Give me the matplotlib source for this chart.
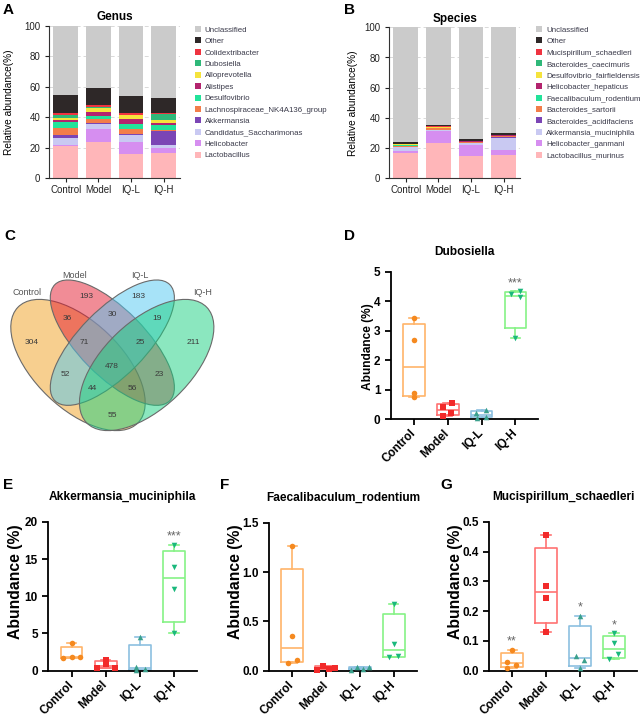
import numpy as np
import matplotlib
matplotlib.use('Agg')
import matplotlib.pyplot as plt
from matplotlib.patches import Ellipse, Patch

plt.rcParams['font.family'] = ['Liberation Sans', 'DejaVu Sans']

# === DATOS ===
groups = ['Control', 'Model', 'IQ-L', 'IQ-H']

# genus stack, bottom -> top
genus_names = ['Lactobacillus', 'Helicobacter', 'Candidatus_Saccharimonas', 'Akkermansia',
               'Lachnospiraceae_NK4A136_group', 'Desulfovibrio', 'Alistipes', 'Alloprevotella',
               'Dubosiella', 'Colidextribacter', 'Other', 'Unclassified']
genus_control = [21.0, 1.1, 4.6, 1.5, 4.8, 3.7, 1.8, 1.3, 2.0, 1.1, 11.6, 45.5]
genus_model = [23.9, 8.3, 3.3, 0.9, 2.6, 1.8, 2.8, 2.6, 0.4, 1.3, 11.1, 41.0]
genus_iql = [16.2, 7.7, 4.4, 1.1, 2.8, 3.3, 3.7, 2.2, 0.2, 1.4, 11.0, 46.0]
genus_iqh = [16.7, 3.3, 2.1, 9.0, 0.9, 2.9, 1.5, 1.8, 3.7, 1.3, 9.2, 47.6]

species_names = ['Lactobacillus_murinus', 'Helicobacter_ganmani', 'Akkermansia_muciniphila',
                 'Bacteroides_acidifaciens', 'Bacteroides_sartorii', 'Faecalibaculum_rodentium',
                 'Helicobacter_hepaticus', 'Desulfovibrio_fairfieldensis', 'Bacteroides_caecimuris',
                 'Mucispirillum_schaedleri', 'Other', 'Unclassified']
species_control = [17.0, 1.2, 2.2, 0.4, 0.5, 0.5, 0.3, 0.3, 0.4, 0.1, 0.9, 76.2]
species_model = [23.2, 8.0, 0.6, 0.5, 0.7, 0.1, 0.5, 0.3, 0.3, 0.3, 0.6, 64.9]
species_iql = [14.8, 7.3, 1.0, 0.2, 0.6, 0.1, 0.4, 0.2, 0.3, 0.1, 0.8, 74.2]
species_iqh = [15.2, 3.3, 8.4, 0.3, 0.7, 0.3, 0.2, 0.2, 0.3, 0.1, 0.8, 70.2]

# venn counts, key = (Control, Model, IQ-L, IQ-H)
venn_counts = {
    (1, 0, 0, 0): 304, (0, 1, 0, 0): 193, (0, 0, 1, 0): 183, (0, 0, 0, 1): 211,
    (1, 1, 0, 0): 36, (0, 1, 1, 0): 30, (0, 0, 1, 1): 19, (1, 0, 1, 0): 52,
    (0, 1, 0, 1): 23, (1, 0, 0, 1): 55, (1, 1, 1, 0): 71, (0, 1, 1, 1): 25,
    (1, 0, 1, 1): 44, (1, 1, 0, 1): 56, (1, 1, 1, 1): 478,
}

# per-sample abundance (%)
dubosiella = {'Control': [0.74, 0.88, 2.68, 3.42], 'Model': [0.10, 0.20, 0.42, 0.55],
              'IQ-L': [0.05, 0.07, 0.20, 0.29], 'IQ-H': [2.76, 4.14, 4.26, 4.34]}
akkermansia = {'Control': [1.62, 1.84, 1.86, 3.65], 'Model': [0.30, 0.35, 0.90, 1.40],
               'IQ-L': [0.05, 0.15, 0.49, 4.46], 'IQ-H': [5.0, 11.0, 13.9, 16.9]}
faecalibaculum = {'Control': [0.08, 0.11, 0.355, 1.26], 'Model': [0.012, 0.016, 0.027, 0.05],
                  'IQ-L': [0.012, 0.015, 0.036, 0.04], 'IQ-H': [0.14, 0.145, 0.27, 0.675]}
mucispirillum = {'Control': [0.008, 0.02, 0.03, 0.07], 'Model': [0.13, 0.245, 0.285, 0.455],
                 'IQ-L': [0.01, 0.036, 0.05, 0.184], 'IQ-H': [0.04, 0.055, 0.092, 0.126]}

sig_dub = {'IQ-H': '***'}
sig_akk = {'IQ-H': '***'}
sig_fae = {}
sig_muc = {'Control': '**', 'IQ-L': '*', 'IQ-H': '*'}

# === ESTILO ===
stack_cols = ['#ffb6b9', '#d68ef0', '#c9c9f2', '#7b45b5', '#f27d4a', '#22e39a',
              '#b3246e', '#f5e33d', '#2fb879', '#ef3340', '#2e2828', '#cbcbcb']
box_cols = ['#ffb469', '#ff7272', '#8cc0e0', '#86f286']
pt_cols = ['#f5891f', '#f22a2a', '#3aa08c', '#1ab87c']
markers = ['o', 's', '^', 'v']

# scatter spread (category units), same order as the sorted values
jit_dub = {'Control': [0, 0, 0, 0], 'Model': [-0.13, 0.11, -0.14, 0.12],
           'IQ-L': [-0.13, 0.12, -0.15, 0.12], 'IQ-H': [0, 0.13, -0.13, 0.13]}
jit_akk = {'Control': [-0.26, 0, 0.26, 0], 'Model': [-0.26, 0.26, 0, 0],
           'IQ-L': [-0.12, 0.14, -0.12, 0], 'IQ-H': [0, 0, 0, 0]}
jit_fae = {'Control': [-0.13, 0.13, 0, 0], 'Model': [-0.28, 0.08, 0.27, -0.1],
           'IQ-L': [-0.26, 0.1, -0.08, 0.26], 'IQ-H': [-0.13, 0.13, 0, 0]}
jit_muc = {'Control': [-0.14, 0.13, -0.14, 0], 'Model': [0, 0, 0, 0],
           'IQ-L': [0, 0.13, -0.13, 0], 'IQ-H': [-0.15, 0.12, 0, 0]}

W, H = 642, 717
fig = plt.figure(figsize=(W / 100, H / 100), dpi=100)


def px_axes(x0, y0, x1, y1):
    return fig.add_axes([x0 / W, 1 - y1 / H, (x1 - x0) / W, (y1 - y0) / H])


def letter(x, y, s):
    fig.text(x / W, 1 - y / H, s, fontsize=11, fontweight='bold', va='top', ha='left')


def stacked(rect, title, names, series, leg_x, ylab_x):
    ax = px_axes(*rect)
    x = np.arange(len(groups))
    table = np.array(series)
    bottom = np.zeros(len(groups))
    for j, name in enumerate(names):
        ax.bar(x, table[:, j], 0.75, bottom=bottom, color=stack_cols[j], lw=0, label=name, zorder=2)
        bottom += table[:, j]
    ax.set_xlim(-0.5, 3.5)
    ax.set_ylim(0, 100)
    ax.set_yticks(np.arange(0, 101, 20))
    ax.set_xticks(x)
    ax.set_xticklabels(groups, fontsize=7)
    ax.tick_params(axis='y', labelsize=7, length=3, width=0.8, colors='#222')
    ax.tick_params(axis='x', length=3, width=0.8, colors='#222', pad=1.5)
    for s in ['top', 'right']:
        ax.spines[s].set_visible(False)
    for s in ['left', 'bottom']:
        ax.spines[s].set_linewidth(0.8)
        ax.spines[s].set_color('#333')
    ax.yaxis.grid(True, ls=(0, (4, 3)), color='#d9d9d9', lw=0.7)
    ax.set_axisbelow(True)
    ax.set_ylabel('Relative abundance(%)', fontsize=7.3)
    ax.yaxis.set_label_coords(ylab_x / (rect[2] - rect[0]), 0.5)
    ax.set_title(title, fontsize=8.5, fontweight='bold', pad=4)
    handles = [Patch(facecolor=stack_cols[j], label=names[j]) for j in range(len(names))][::-1]
    fig.legend(handles=handles, loc='upper left', bbox_to_anchor=(leg_x / W, 1 - 26 / H),
               frameon=False, fontsize=5.7, handlelength=0.8, handleheight=0.8,
               handletextpad=0.5, labelspacing=0.46, borderpad=0, borderaxespad=0,
               labelcolor='#3a3a4a')
    return ax


stacked((49.3, 26, 180, 178.3), 'Genus', genus_names,
        [genus_control, genus_model, genus_iql, genus_iqh], 194.5, -35)
stacked((389.3, 27.3, 520, 178.3), 'Species', species_names,
        [species_control, species_model, species_iql, species_iqh], 536, -31.5)

# === C: venn ===
axc = px_axes(0, 210, 321, 450)
axc.set_xlim(0, 963)
axc.set_ylim(720, 0)
axc.axis('off')
ellipses = [(234, 465, 500, 260, 43.8), (337, 398, 490, 200, 45.4),
            (337, 398, 490, 200, 134.6), (440, 465, 500, 260, 136.2)]
venn_cols = ['#f0a020', '#e41a2e', '#50c8f2', '#18d080']
for (cx, cy, w, h, ang), c in zip(ellipses, venn_cols):
    axc.add_patch(Ellipse((cx, cy), w, h, angle=ang, facecolor=c, alpha=0.5, lw=0))
    axc.add_patch(Ellipse((cx, cy), w, h, angle=ang, facecolor='none', edgecolor='#6a6a6a', lw=0.8))

gx, gy = np.meshgrid(np.arange(0, 963, 2.0), np.arange(0, 720, 2.0))
inside, dist = [], []
for cx, cy, w, h, ang in ellipses:
    t = np.deg2rad(ang)
    a, b = w / 2, h / 2
    dx, dy = gx - cx, gy - cy
    u = dx * np.cos(t) + dy * np.sin(t)
    v = -dx * np.sin(t) + dy * np.cos(t)
    q = (u / a) ** 2 + (v / b) ** 2
    g = 2 * np.hypot(u / a ** 2, v / b ** 2) + 1e-9
    inside.append(q < 1)
    dist.append(np.abs(q - 1) / g)
inside = np.array(inside)
margin = np.min(np.array(dist), axis=0)
for key, n in venn_counts.items():
    mask = np.all(inside == np.array(key, bool)[:, None, None], axis=0)
    m = np.where(mask, margin, -1)
    k = np.unravel_index(np.argmax(m), m.shape)
    axc.text(gx[k], gy[k], str(n), fontsize=6, color='#3a3a3a', ha='center', va='center')

venn_label_pos = [(80, 248), (225, 195), (420, 195), (608, 248)]
for (lx, ly), g in zip(venn_label_pos, groups):
    axc.text(lx, ly, g, fontsize=6.5, color='#555555', ha='center', va='center')


# === D-G: boxplots ===
def box_panel(rect, title, data, jit, ymax, step, fmt, sig, ylab_size, ylab_pos, title_pad):
    ax = px_axes(*rect)
    stats = []
    for g in groups:
        vals = np.array(data[g])
        q1, med, q3 = np.percentile(vals, [25, 50, 75], method='weibull')
        stats.append(dict(med=med, q1=q1, q3=q3, whislo=vals.min(), whishi=vals.max(), fliers=[]))
    art = ax.bxp(stats, positions=range(4), widths=0.64, capwidths=0.27, showfliers=False)
    for i, g in enumerate(groups):
        c = box_cols[i]
        art['boxes'][i].set(color=c, lw=1.2)
        art['medians'][i].set(color=c, lw=1.2)
        for k in (2 * i, 2 * i + 1):
            art['whiskers'][k].set(color=c, lw=1.2)
            art['caps'][k].set(color=c, lw=1.2)
        ax.scatter(i + np.array(jit[g]), data[g], marker=markers[i], s=16, color=pt_cols[i],
                   lw=0, zorder=3, clip_on=False)
        if g in sig:
            ax.text(i, max(data[g]) + 0.015 * ymax, sig[g], ha='center', va='bottom',
                    fontsize=9, color='#666666')
    ax.set_xlim(-0.68, 3.68)
    ax.set_ylim(0, ymax)
    ax.set_yticks(np.arange(0, ymax + step / 2, step))
    ax.yaxis.set_major_formatter(matplotlib.ticker.FormatStrFormatter(fmt))
    ax.set_xticks(range(4))
    ax.set_xticklabels(groups, rotation=45, ha='right', va='center', rotation_mode='anchor',
                       fontsize=8.5, fontweight='bold')
    for lab in ax.get_yticklabels():
        lab.set_fontweight('bold')
    ax.tick_params(labelsize=8.5, length=4, width=1.3)
    ax.tick_params(axis='x', pad=5)
    for s in ['top', 'right']:
        ax.spines[s].set_visible(False)
    for s in ['left', 'bottom']:
        ax.spines[s].set_linewidth(1.3)
    ax.set_ylabel('Abundance (%)', fontsize=ylab_size, fontweight='bold')
    ax.yaxis.set_label_coords(ylab_pos[0] / (rect[2] - rect[0]), ylab_pos[1])
    ax.set_title(title, fontsize=8.6, fontweight='bold', pad=title_pad)
    return ax


box_panel((391, 272, 538.3, 419), 'Dubosiella', dubosiella, jit_dub, 5, 1, '%d', sig_dub,
          8.6, (-17.5, 0.49), 12)
box_panel((48.3, 522, 197.3, 670.5), 'Akkermansia_muciniphila', akkermansia, jit_akk, 20, 5, '%d',
          sig_akk, 11.3, (-25, 0.6), 16)
box_panel((269.3, 522.7, 416.7, 670.7), 'Faecalibaculum_rodentium', faecalibaculum, jit_fae, 1.5, 0.5,
          '%.1f', sig_fae, 11.3, (-26, 0.6), 16)
box_panel((489, 522, 637, 670.7), 'Mucispirillum_schaedleri', mucispirillum, jit_muc, 0.5, 0.1, '%.1f',
          sig_muc, 11.3, (-26, 0.6), 16)

letter(3, 3, 'A')
letter(344, 3, 'B')
letter(4, 229, 'C')
letter(344, 229, 'D')
letter(3, 478, 'E')
letter(220, 478, 'F')
letter(440, 478, 'G')

fig.savefig('out.png', dpi=100)
